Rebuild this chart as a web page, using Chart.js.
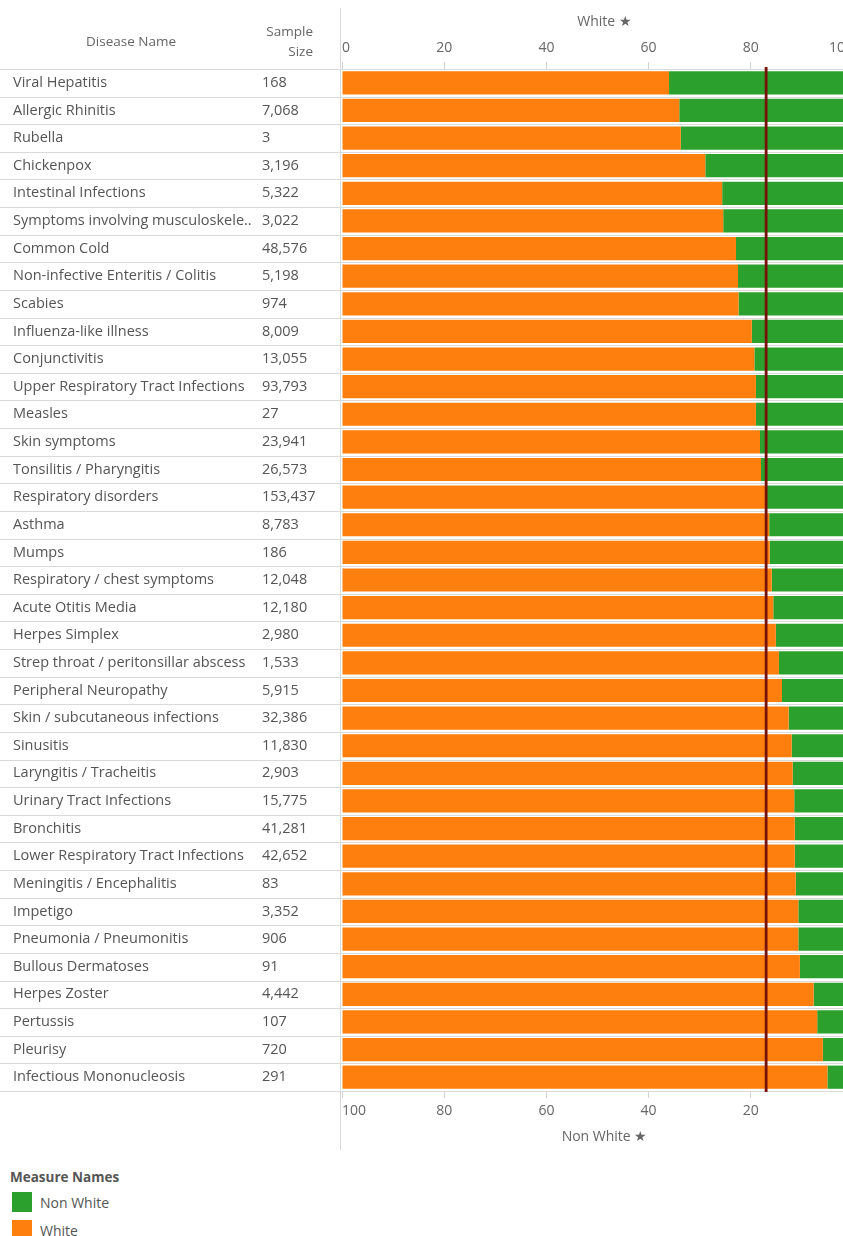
<!DOCTYPE html>
<html>
<head>
<meta charset="utf-8">
<script src="https://cdn.jsdelivr.net/npm/chart.js@4"></script>
<style>
  html, body { margin: 0; padding: 0; background: #fff; overflow: hidden; width: 843px; height: 1236px; }
  #wrap { position: absolute; left: 0; top: 0; width: 870px; height: 1160px; }
  #legend { position: absolute; left: 10px; top: 1167px; font-family: 'Open Sans', sans-serif; font-size: 14px; color: #555; }
  #legend .ttl { font-weight: bold; font-size: 13.5px; height: 21px; line-height: 20px; }
  #legend .item { display: flex; align-items: center; height: 28px; }
  #legend .sw { width: 20px; height: 20px; margin: 0 8px 0 2px; }
</style>
</head>
<body>
<div id="wrap"><canvas id="chart" width="870" height="1160"></canvas></div>
<div id="legend"></div>
<script>
const diseases = [
  'Viral Hepatitis',
  'Allergic Rhinitis',
  'Rubella',
  'Chickenpox',
  'Intestinal Infections',
  'Symptoms involving musculoskele..',
  'Common Cold',
  'Non-infective Enteritis / Colitis',
  'Scabies',
  'Influenza-like illness',
  'Conjunctivitis',
  'Upper Respiratory Tract Infections',
  'Measles',
  'Skin symptoms',
  'Tonsilitis / Pharyngitis',
  'Respiratory disorders',
  'Asthma',
  'Mumps',
  'Respiratory / chest symptoms',
  'Acute Otitis Media',
  'Herpes Simplex',
  'Strep throat / peritonsillar abscess',
  'Peripheral Neuropathy',
  'Skin / subcutaneous infections',
  'Sinusitis',
  'Laryngitis / Tracheitis',
  'Urinary Tract Infections',
  'Bronchitis',
  'Lower Respiratory Tract Infections',
  'Meningitis / Encephalitis',
  'Impetigo',
  'Pneumonia / Pneumonitis',
  'Bullous Dermatoses',
  'Herpes Zoster',
  'Pertussis',
  'Pleurisy',
  'Infectious Mononucleosis'
];

const sampleSize = [
  168, 7068, 3, 3196, 5322, 3022, 48576, 5198, 974, 8009,
  13055, 93793, 27, 23941, 26573, 153437, 8783, 186, 12048, 12180,
  2980, 1533, 5915, 32386, 11830, 2903, 15775, 41281, 42652, 83,
  3352, 906, 91, 4442, 107, 720, 291
];

const whitePct = [
  64.0, 66.0, 66.3, 71.1, 74.4, 74.6, 77.1, 77.5, 77.6, 80.2,
  80.7, 81.0, 81.0, 81.8, 82.0, 82.9, 83.6, 83.7, 84.1, 84.4,
  84.9, 85.5, 86.1, 87.4, 88.0, 88.2, 88.5, 88.6, 88.6, 88.8,
  89.3, 89.3, 89.6, 92.3, 93.0, 94.1, 95.0
];

const nonWhitePct = [
  36.0, 34.0, 33.7, 28.9, 25.6, 25.4, 22.9, 22.5, 22.4, 19.8,
  19.3, 19.0, 19.0, 18.2, 18.0, 17.1, 16.4, 16.3, 15.9, 15.6,
  15.1, 14.5, 13.9, 12.6, 12.0, 11.8, 11.5, 11.4, 11.4, 11.2,
  10.7, 10.7, 10.4, 7.7, 7.0, 5.9, 5.0
];

const axisTicks = [0, 20, 40, 60, 80, 100];
const refLine = 83;

const FONT = "'Open Sans', sans-serif";
const TEXT = '#555';

// left table + row lines + reference line
const tablePlugin = {
  id: 'table',
  beforeDatasetsDraw(chart) {
    const { ctx, chartArea, scales: { y } } = chart;
    const half = (y.getPixelForValue(1) - y.getPixelForValue(0)) / 2;
    ctx.save();
    ctx.strokeStyle = '#dadada';
    ctx.lineWidth = 1;
    for (let i = 0; i <= diseases.length; i++) {
      const yy = Math.round(y.getPixelForValue(i) - half) + 0.5;
      ctx.beginPath();
      ctx.moveTo(0, yy);
      ctx.lineTo(chart.width, yy);
      ctx.stroke();
    }
    // column divider
    ctx.beginPath();
    ctx.moveTo(chartArea.left - 1.5, 8);
    ctx.lineTo(chartArea.left - 1.5, 1150);
    ctx.stroke();

    ctx.fillStyle = TEXT;
    ctx.font = '14.5px ' + FONT;
    ctx.textBaseline = 'middle';
    diseases.forEach((d, i) => {
      const yy = y.getPixelForValue(i);
      ctx.textAlign = 'left';
      ctx.fillText(d, 13, yy);
      ctx.fillText(sampleSize[i].toLocaleString('en-US'), 262, yy);
    });

    // header
    ctx.fillStyle = '#666';
    ctx.font = '13.5px ' + FONT;
    ctx.textAlign = 'center';
    ctx.fillText('Disease Name', 131, 42);
    ctx.textAlign = 'right';
    ctx.fillText('Sample', 313, 32);
    ctx.fillText('Size', 313, 52);
    ctx.restore();
  },
  afterDatasetsDraw(chart) {
    const { ctx, chartArea, scales: { x } } = chart;
    const px = x.getPixelForValue(refLine);
    ctx.save();
    ctx.strokeStyle = '#761208';
    ctx.lineWidth = 2.8;
    ctx.beginPath();
    ctx.moveTo(px, chartArea.top - 2);
    ctx.lineTo(px, chartArea.bottom + 1);
    ctx.stroke();
    ctx.restore();
  }
};

const data = {
  labels: diseases,
  datasets: [{
    label: 'White',
    data: whitePct,
    xAxisID: 'x',
    backgroundColor: 'rgb(255, 127, 14)',
    categoryPercentage: 0.84,
    barPercentage: 1,
    grouped: false,
    order: 1
  }, {
    label: 'Non White',
    data: nonWhitePct,
    xAxisID: 'x2',
    backgroundColor: 'rgb(44, 160, 44)',
    categoryPercentage: 0.84,
    barPercentage: 1,
    grouped: false,
    order: 2
  }]
};

const tickOpts = {
  color: '#666',
  font: { size: 14, family: FONT },
  align: 'inner',
  autoSkip: false
};

const config = {
  type: 'bar',
  data: data,
  options: {
    indexAxis: 'y',
    responsive: false,
    animation: false,
    layout: { padding: { left: 342, right: 17, top: 0, bottom: 9 } },
    plugins: {
      legend: { display: false },
      tooltip: { enabled: false }
    },
    scales: {
      y: { display: false },
      x: {
        position: 'top',
        min: 0,
        max: 100,
        afterBuildTicks: s => { s.ticks = axisTicks.map(v => ({ value: v })); },
        afterFit: s => { s.height = 69; },
        grid: { drawOnChartArea: false, tickLength: 7, color: '#d4d4d4' },
        border: { display: false },
        ticks: Object.assign({ padding: 6 }, tickOpts),
        title: {
          display: true,
          text: '\u2003White \u2605',
          color: '#666',
          font: { size: 14, family: FONT },
          padding: { top: 14, bottom: 0 }
        }
      },
      x2: {
        position: 'bottom',
        reverse: true,
        min: 0,
        max: 100,
        afterBuildTicks: s => { s.ticks = axisTicks.map(v => ({ value: v })); },
        afterFit: s => { s.height = 60; },
        grid: { drawOnChartArea: false, tickLength: 7, color: '#d4d4d4' },
        border: { display: false },
        ticks: Object.assign({ padding: 5 }, tickOpts),
        title: {
          display: true,
          text: '\u2003Non White \u2605',
          color: '#666',
          font: { size: 14, family: FONT },
          padding: { top: 0, bottom: 6 }
        }
      }
    }
  },
  plugins: [tablePlugin]
};

Chart.defaults.font.family = FONT;

const chart = new Chart(document.getElementById('chart'), config);

// legend, Tableau style
const legend = document.getElementById('legend');
let html = '<div class="ttl">Measure Names</div>';
chart.data.datasets.slice().reverse().forEach(ds => {
  html += '<div class="item"><span class="sw" style="background:' + ds.backgroundColor + '"></span>' + ds.label + '</div>';
});
legend.innerHTML = html;
</script>
</body>
</html>
